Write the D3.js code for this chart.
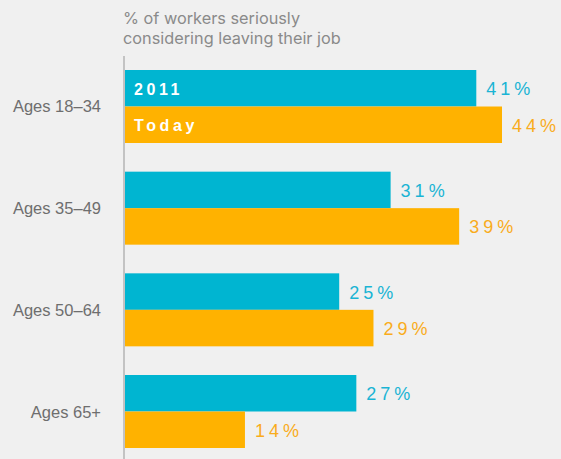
<!DOCTYPE html>
<html>
<head>
<meta charset="utf-8">
<script src="https://cdn.jsdelivr.net/npm/d3@7"></script>
<style>
  html, body { margin: 0; padding: 0; background: #f0f0f0; }
  svg { display: block; }
</style>
</head>
<body>
<div id="chart"></div>
<script>
// Share of workers seriously considering leaving their job, by age group
const categories = ["Ages 18–34", "Ages 35–49", "Ages 50–64", "Ages 65+"];
const seriesNames = ["2011", "Today"];
const values2011 = [41, 31, 25, 27];
const valuesToday = [44, 39, 29, 14];
const titleLines = ["% of workers seriously", "considering leaving their job"];

const W = 561, H = 459;
const colors = { "2011": "#00b5d1", "Today": "#ffb200" };
const textColors = { "2011": "#1ab4d4", "Today": "#f9ac1c" };

const svg = d3.select("#chart").append("svg")
  .attr("width", W).attr("height", H)
  .style("background", "#f0f0f0");

const x0 = 125;
const x = d3.scaleLinear().domain([0, 44]).range([x0, 502]);

const y = d3.scaleBand().domain(categories)
  .range([70, 448]).paddingInner(0.282).paddingOuter(0);
const ySub = d3.scaleBand().domain(seriesNames)
  .range([0, y.bandwidth()]).padding(0);

const rows = categories.map((c, i) => ({
  category: c,
  bars: [
    { series: "2011", value: values2011[i] },
    { series: "Today", value: valuesToday[i] }
  ]
}));

const font = "'Liberation Sans', Arial, sans-serif";

// Title
svg.append("g").selectAll("text").data(titleLines).join("text")
  .attr("x", 123).attr("y", (d, i) => 24 + i * 20)
  .attr("font-family", "Inter, 'Noto Sans', sans-serif").attr("font-size", 16.3)
  .attr("fill", "#8a8a8a")
  .text(d => d);

// Groups
const groups = svg.append("g").selectAll("g").data(rows).join("g")
  .attr("transform", d => `translate(0,${y(d.category)})`);

groups.selectAll("rect").data(d => d.bars).join("rect")
  .attr("x", x(0))
  .attr("y", d => ySub(d.series))
  .attr("width", d => x(d.value) - x(0))
  .attr("height", ySub.bandwidth())
  .attr("fill", d => colors[d.series]);

groups.selectAll("text.val").data(d => d.bars).join("text")
  .attr("class", "val")
  .attr("x", d => x(d.value) + 10)
  .attr("y", d => ySub(d.series) + ySub.bandwidth() / 2 + 1)
  .attr("dominant-baseline", "central")
  .attr("font-family", font).attr("font-size", 18)
  .attr("letter-spacing", 4)
  .attr("fill", d => textColors[d.series])
  .text(d => d.value + "%");

// Series names inside the first group's bars
const first = groups.filter((d, i) => i === 0);
first.selectAll("text.series").data(seriesNames).join("text")
  .attr("class", "series")
  .attr("x", x0 + 9)
  .attr("y", d => ySub(d) + ySub.bandwidth() / 2 + 1)
  .attr("dominant-baseline", "central")
  .attr("font-family", font).attr("font-size", 16)
  .attr("font-weight", "bold")
  .attr("letter-spacing", 3.6)
  .attr("fill", "#ffffff")
  .text(d => d);

// Category labels
svg.append("g").selectAll("text").data(categories).join("text")
  .attr("x", 101)
  .attr("y", d => y(d) + y.bandwidth() / 2)
  .attr("text-anchor", "end")
  .attr("dominant-baseline", "central")
  .attr("font-family", font).attr("font-size", 16.5)
  .attr("fill", "#6e6e6e")
  .text(d => d);

// Baseline axis
svg.append("line")
  .attr("x1", 124).attr("x2", 124)
  .attr("y1", 56).attr("y2", H)
  .attr("stroke", "#b5b5b5").attr("stroke-width", 1.5);
</script>
</body>
</html>
